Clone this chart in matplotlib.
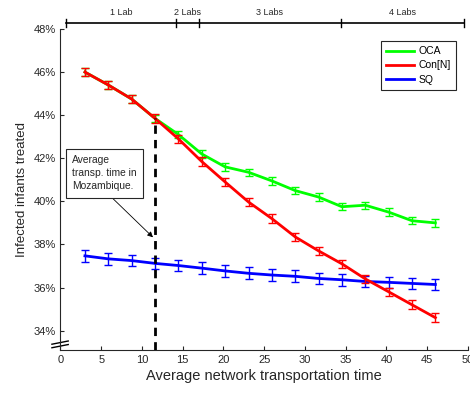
import numpy as np
import matplotlib
matplotlib.use('Agg')
import matplotlib.pyplot as plt
import matplotlib.transforms as mtransforms
from matplotlib.lines import Line2D

plt.rcParams['font.family'] = ['Liberation Sans', 'DejaVu Sans']

# data
x = [3.0, 5.87, 8.73, 11.6, 14.47, 17.33, 20.2, 23.07, 25.93, 28.8, 31.67, 34.53, 37.4, 40.27, 43.13, 46.0]
oca = [46.0, 45.4, 44.75, 43.85, 43.1, 42.2, 41.6, 41.35, 40.95, 40.5, 40.2, 39.75, 39.82, 39.5, 39.1, 39.0]
oca_err = [0.17] * 16
con = [46.0, 45.4, 44.75, 43.85, 42.9, 41.85, 40.9, 39.97, 39.2, 38.35, 37.7, 37.1, 36.4, 35.8, 35.2, 34.6]
con_err = [0.2] * 16
sq = [37.47, 37.33, 37.25, 37.12, 37.02, 36.9, 36.77, 36.66, 36.58, 36.52, 36.42, 36.36, 36.28, 36.24, 36.19, 36.14]
sq_err = [0.27] * 16

lab_edges = [0.7, 14.2, 17.0, 34.4, 49.5]
lab_names = ['1 Lab', '2 Labs', '3 Labs', '4 Labs']
yticks = [34, 36, 38, 40, 42, 44, 46, 48]
xticks = [0, 5, 10, 15, 20, 25, 30, 35, 40, 45, 50]
mozambique_x = 11.6

gray = '#262626'
cols = {'OCA': (0, 1, 0), 'Con[N]': (1, 0, 0), 'SQ': (0, 0, 1)}

fig = plt.figure(figsize=(4.7, 3.94), dpi=100)
ax = fig.add_axes([0.1287, 0.1117, 0.867, 0.8147])

ax.errorbar(x, oca, yerr=oca_err, color=cols['OCA'], lw=2.0, elinewidth=1.0, capsize=3, capthick=1.0, zorder=3)
ax.errorbar(x, con, yerr=con_err, color=cols['Con[N]'], lw=2.0, elinewidth=1.0, capsize=3, capthick=1.0, zorder=4)
ax.errorbar(x, sq, yerr=sq_err, color=cols['SQ'], lw=2.0, elinewidth=1.0, capsize=3, capthick=1.0, zorder=3)

ax.plot([mozambique_x, mozambique_x], [33.1, con[3]], color='black', lw=2.0, ls=(0, (3, 2.2)), zorder=5)

ax.set_xlim(0, 50)
ax.set_ylim(33.1, 48)
ax.set_xticks(xticks)
ax.set_yticks(yticks)
ax.set_yticklabels([f'{v}%' for v in yticks])
ax.tick_params(direction='in', length=3, width=0.8, colors=gray, labelsize=8, labelcolor=gray)
for s in ['top', 'right']:
    ax.spines[s].set_visible(False)
for s in ['left', 'bottom']:
    ax.spines[s].set_color(gray)
    ax.spines[s].set_linewidth(0.8)

ax.set_xlabel('Average network transportation time', fontsize=10.5, color=gray, labelpad=3)
ax.set_ylabel('Infected infants treated', fontsize=9.5, color=gray, labelpad=4)

# axis break marks
for dy in [0.012, 0.023]:
    ax.plot([-0.021, 0.019], [dy - 0.005, dy + 0.005], transform=ax.transAxes, color='black', lw=1.0, clip_on=False)

# lab bar on top
btrans = mtransforms.blended_transform_factory(ax.transData, ax.transAxes)
ybar = 1.019
ax.plot([lab_edges[0], lab_edges[-1]], [ybar, ybar], color='black', lw=1.2, transform=btrans, clip_on=False)
for e in lab_edges:
    ax.plot([e, e], [ybar - 0.012, ybar + 0.012], color='black', lw=1.0, transform=btrans, clip_on=False)
for i, name in enumerate(lab_names):
    mid = (lab_edges[i] + lab_edges[i + 1]) / 2
    ax.text(mid, ybar + 0.018, name, transform=btrans, ha='center', va='bottom', fontsize=6.5, color=gray)

handles = [Line2D([], [], color=c, lw=2.0) for c in cols.values()]
leg = ax.legend(handles, list(cols.keys()), loc='upper right', bbox_to_anchor=(0.9706, 0.9626), borderaxespad=0,
                fontsize=7.5, handlelength=2.7, handletextpad=0.4, borderpad=0.5, labelspacing=0.4,
                fancybox=False, framealpha=1)
leg.get_frame().set_edgecolor(gray)
leg.get_frame().set_linewidth(0.8)

ax.annotate('Average\ntransp. time in\nMozambique.', xy=(11.35, 38.33), xytext=(1.4, 42.15),
            fontsize=7.4, color=gray, ha='left', va='top', linespacing=1.4,
            bbox=dict(boxstyle='square,pad=0.6', fc='white', ec=gray, lw=0.8),
            arrowprops=dict(arrowstyle='-|>', color='black', lw=0.6, shrinkA=0, shrinkB=0,
                            relpos=(0.52, 0.0), mutation_scale=8))

fig.savefig('out.png', dpi=100)
